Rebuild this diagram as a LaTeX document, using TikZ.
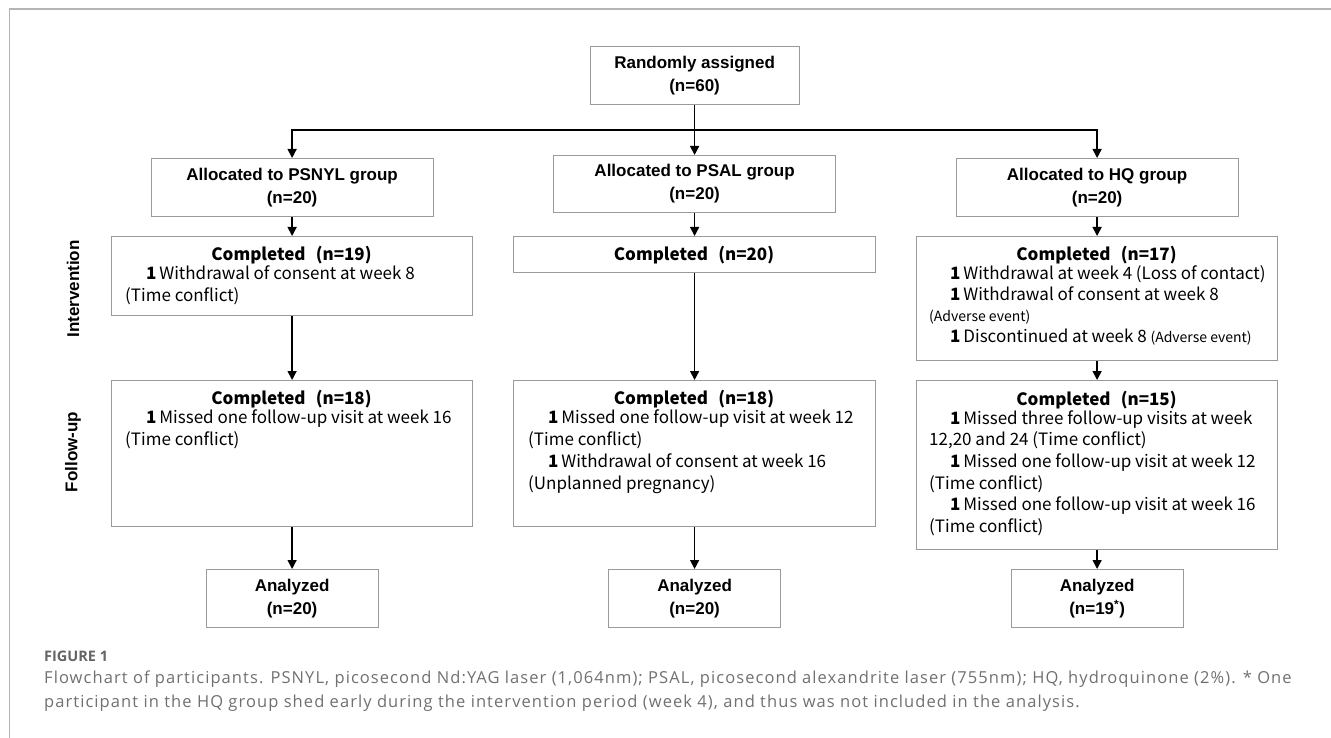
\documentclass[tikz,border=0pt]{standalone}
\usepackage{fontspec}
\setmainfont{Liberation Sans}
\newfontfamily\bodyf{Noto Sans CJK SC}
\newfontfamily\capf[LetterSpace=6.5]{Open Sans}
\newfontfamily\figf{Open Sans}
\usetikzlibrary{arrows.meta}
\definecolor{boxgray}{HTML}{9A9A9A}
\definecolor{framegray}{HTML}{B4B4B4}
\definecolor{capgray}{HTML}{707070}
\newcommand\numone{\textbf{1}\,}
\begin{document}
\begin{tikzpicture}[x=1pt,y=-1pt,
  box/.style={draw=boxgray, line width=1.2pt, inner sep=0pt, anchor=north west},
  ttl/.style={font=\fontsize{17}{23}\selectfont\bfseries, align=center},
  conn/.style={line width=1.5pt, -{Triangle[width=9pt,length=9pt]}},
  plain/.style={line width=1.5pt},
  btitle/.style={font=\bodyf\bfseries\fontsize{17}{20}\selectfont, inner sep=0pt, anchor=center},
  body/.style={font=\bodyf\fontsize{17}{20}\selectfont, inner sep=0pt, anchor=mid west},
  side/.style={font=\fontsize{17}{20}\selectfont\bfseries, rotate=90, inner sep=0pt},
  captxt/.style={font=\capf\fontsize{16.5}{20}\selectfont, text=capgray, inner sep=0pt, anchor=mid west}
]
\useasboundingbox (0,0) rectangle (1331,738);
% frame
\draw[framegray, line width=1.2pt] (1331,9) -- (9.5,9) -- (9.5,738);

% top
\node[box, ttl, minimum width=209, minimum height=58] (rand) at (589.5,46) {Randomly assigned\\(n=60)};
\node[box, ttl, minimum width=282, minimum height=58] (nyA) at (150.5,158) {Allocated to PSNYL group\\(n=20)};
\node[box, ttl, minimum width=282, minimum height=57] (saA) at (553,155) {Allocated to PSAL group\\(n=20)};
\node[box, ttl, minimum width=282, minimum height=58] (hqA) at (955.5,158) {Allocated to HQ group\\(n=20)};

% intervention boxes
\node[box, minimum width=361, minimum height=79] (nyI) at (111,236) {};
\node[box, minimum width=362, minimum height=36] (saI) at (513,236) {};
\node[box, minimum width=361, minimum height=124] (hqI) at (916,236) {};
% follow-up boxes
\node[box, minimum width=361, minimum height=146] (nyF) at (111,380) {};
\node[box, minimum width=362, minimum height=146] (saF) at (513,380) {};
\node[box, minimum width=361, minimum height=169] (hqF) at (916,380) {};
% analyzed
\node[box, ttl, minimum width=172, minimum height=58] (nyZ) at (205.5,569) {Analyzed\\(n=20)};
\node[box, ttl, minimum width=172, minimum height=58] (saZ) at (608,569) {Analyzed\\(n=20)};
\node[box, ttl, minimum width=172, minimum height=58] (hqZ) at (1010.5,569) {Analyzed\\(n=19\textsuperscript{*})};

% side labels
\node[side] (lblI) at (73,289) {Intervention};
\node[side] (lblF) at (73,452) {Follow-up};

% texts intervention
\node[btitle] (tnyI) at (291.5,255) {Completed\hspace{0.6em}(n=19)};
\node[body] (nyI1) at (146,277) {\numone Withdrawal of consent at week 8};
\node[body] (nyI2) at (125,299) {(Time conflict)};

\node[btitle] (tsaI) at (694,255) {Completed\hspace{0.6em}(n=20)};

\node[btitle] (thqI) at (1096.5,255) {Completed\hspace{0.6em}(n=17)};
\node[body] (hqI1) at (950,277) {\numone Withdrawal at week 4 (Loss of contact)};
\node[body] (hqI2) at (950,298) {\numone Withdrawal of consent at week 8};
\node[body, font=\bodyf\fontsize{14}{16}\selectfont] (hqI3) at (929,319) {(Adverse event)};
\node[body] (hqI4) at (950,340) {\numone Discontinued at week 8 {\fontsize{14}{16}\selectfont(Adverse event)}};

% texts follow-up
\node[btitle] (tnyF) at (291.5,399) {Completed\hspace{0.6em}(n=18)};
\node[body] (nyF1) at (146,421) {\numone Missed one follow-up visit at week 16};
\node[body] (nyF2) at (125,443) {(Time conflict)};

\node[btitle] (tsaF) at (694,399) {Completed\hspace{0.6em}(n=18)};
\node[body] (saF1) at (548,421) {\numone Missed one follow-up visit at week 12};
\node[body] (saF2) at (528,443) {(Time conflict)};
\node[body] (saF3) at (548,465) {\numone Withdrawal of consent at week 16};
\node[body] (saF4) at (528,487) {(Unplanned pregnancy)};

\node[btitle] (thqF) at (1096.5,400) {Completed\hspace{0.6em}(n=15)};
\node[body] (hqF1) at (950,422) {\numone Missed three follow-up visits at week};
\node[body] (hqF2) at (929,443) {12,20 and 24 (Time conflict)};
\node[body] (hqF3) at (950,465) {\numone Missed one follow-up visit at week 12};
\node[body] (hqF4) at (929,487) {(Time conflict)};
\node[body] (hqF5) at (950,508) {\numone Missed one follow-up visit at week 16};
\node[body] (hqF6) at (929,530) {(Time conflict)};

% connectors
\coordinate (hl) at (694,130);
\draw[conn] (rand.south) -- (saA.north);
\draw[plain, {Triangle[width=9pt,length=9pt]}-{Triangle[width=9pt,length=9pt]}]
  (nyA.north) -- (nyA.north |- hl) -- (hqA.north |- hl) -- (hqA.north);
\draw[conn] (nyA.south) -- (nyI.north);
\draw[conn] (saA.south) -- (saI.north);
\draw[conn] (hqA.south) -- (hqI.north);
\draw[conn] (nyI.south) -- (nyF.north);
\draw[conn] (saI.south) -- (saF.north);
\draw[conn] (hqI.south) -- (hqF.north);
\draw[conn] (nyF.south) -- (nyZ.north);
\draw[conn] (saF.south) -- (saZ.north);
\draw[conn] (hqF.south) -- (hqZ.north);

% caption
\node[captxt, font=\figf\bfseries\fontsize{14.5}{16}\selectfont, text=capgray!90!black] (fig) at (44,659) {FIGURE 1};
\node[captxt] (cap1) at (44,681) {Flowchart of participants. PSNYL, picosecond Nd:YAG laser (1,064nm); PSAL, picosecond alexandrite laser (755nm); HQ, hydroquinone (2\%). * One};
\node[captxt] (cap2) at (44,705) {participant in the HQ group shed early during the intervention period (week 4), and thus was not included in the analysis.};
\end{tikzpicture}
\end{document}
